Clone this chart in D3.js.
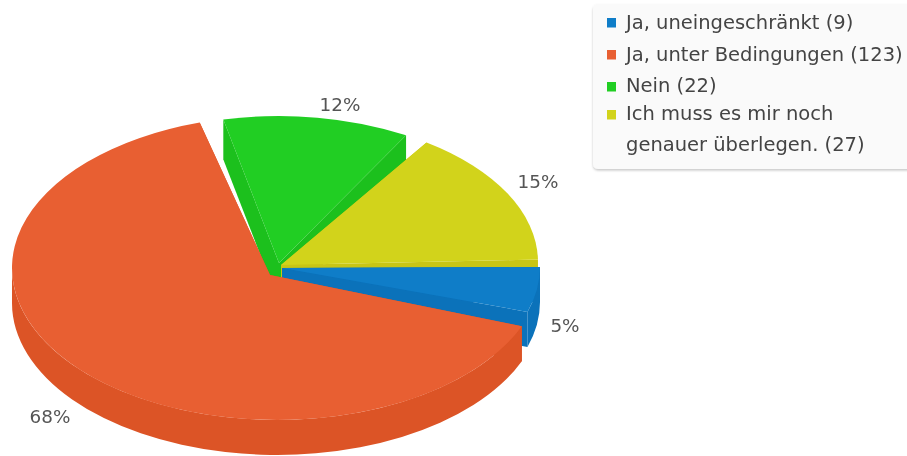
<!DOCTYPE html>
<html>
<head>
<meta charset="utf-8">
<script src="https://d3js.org/d3.v7.min.js"></script>
<style>
  html, body { margin: 0; padding: 0; background: #fff; }
  svg { display: block; filter: blur(0.45px); }
  text { font-family: "DejaVu Sans", sans-serif; }
</style>
</head>
<body>
<div id="chart"></div>
<script>
// chart data
var categories = ["Ja, uneingeschränkt", "Ja, unter Bedingungen", "Nein", "Ich muss es mir noch genauer überlegen."];
var values = [9, 123, 22, 27];
var percentLabels = ["5%", "68%", "12%", "15%"];
var legendLines = [["Ja, uneingeschränkt (9)"], ["Ja, unter Bedingungen (123)"], ["Nein (22)"], ["Ich muss es mir noch", "genauer überlegen. (27)"]];

var topColors = ["#0f7dc8", "#e85f32", "#21ce23", "#d2d31b"];
var sideColors = ["#0b72ba", "#dc5426", "#1cc01d", "#c8c515"];

// each slice is pulled out on its own, so each has its own ellipse
var shapes = [
  {cx: 282, cy: 267, rx: 258, ry: 146, ax: 282, ay: 268, depth: 35, d0: 0, d1: 0},
  {cx: 277, cy: 268, rx: 265, ry: 152, ax: 270, ay: 275, depth: 35, d0: 4.6, d1: -9.5},
  {cx: 279, cy: 265, rx: 258, ry: 149, ax: 279, ay: 263, depth: 40, d0: -5, d1: -6.8},
  {cx: 281, cy: 262, rx: 257, ry: 145, ax: 281, ay: 265, depth: 35, d0: -1.8, d1: -1}
];
var labelPos = [[565, 332], [50, 423], [340, 111], [538, 188]];

var width = 907, height = 456;

var svg = d3.select("#chart").append("svg")
  .attr("width", width)
  .attr("height", height);

var arcs = d3.pie().sort(null)(values);

function rim(s, t, dy) {
  return [s.cx + s.rx * Math.cos(t), s.cy + s.ry * Math.sin(t) + (dy || 0)];
}

function arcTo(s, t0, t1, dy) {
  var p = rim(s, t1, dy);
  var large = Math.abs(t1 - t0) > Math.PI ? 1 : 0;
  var sweep = t1 > t0 ? 1 : 0;
  return "A" + s.rx + "," + s.ry + " 0 " + large + " " + sweep + " " + p[0] + "," + p[1];
}

function cutWall(s, t) {
  var p = rim(s, t);
  return "M" + s.ax + "," + s.ay + "L" + p + "L" + p[0] + "," + (p[1] + s.depth) +
    "L" + s.ax + "," + (s.ay + s.depth) + "Z";
}

function outerWall(s, t0, t1) {
  // only the front half of the rim can be seen
  var a = Math.max(t0, 0), b = Math.min(t1, Math.PI);
  if (b <= a) return "";
  var p0 = rim(s, a), p1 = rim(s, b, s.depth);
  return "M" + p0 + arcTo(s, a, b) + "L" + p1 + arcTo(s, b, a, s.depth) + "Z";
}

// painted back to front
[2, 3, 0, 1].forEach(function(i) {
  var s = shapes[i];
  var t0 = arcs[i].startAngle + s.d0 * Math.PI / 180;
  var t1 = arcs[i].endAngle + s.d1 * Math.PI / 180;
  var g = svg.append("g");

  g.append("path").attr("d", cutWall(s, t0)).attr("fill", sideColors[i]);
  g.append("path").attr("d", cutWall(s, t1)).attr("fill", sideColors[i]);
  g.append("path").attr("d", outerWall(s, t0, t1)).attr("fill", sideColors[i]);

  g.append("path")
    .attr("d", "M" + s.ax + "," + s.ay + "L" + rim(s, t0) + arcTo(s, t0, t1) + "Z")
    .attr("fill", topColors[i]);
});

// percent labels
svg.selectAll(".pct")
  .data(percentLabels)
  .enter().append("text")
    .attr("class", "pct")
    .attr("x", function(d, i) { return labelPos[i][0]; })
    .attr("y", function(d, i) { return labelPos[i][1]; })
    .attr("text-anchor", "middle")
    .attr("font-size", 18.4)
    .attr("fill", "#555")
    .text(function(d) { return d; });

// legend
var shadow = svg.append("defs").append("filter")
  .attr("id", "legendShadow")
  .attr("x", "-5%").attr("y", "-5%").attr("width", "110%").attr("height", "115%");
shadow.append("feDropShadow")
  .attr("dx", 0).attr("dy", 1.5).attr("stdDeviation", 1.2)
  .attr("flood-color", "#000").attr("flood-opacity", 0.22);

svg.append("rect")
  .attr("x", 593).attr("y", 4)
  .attr("width", 340).attr("height", 165)
  .attr("rx", 5)
  .attr("fill", "#fafafa")
  .attr("filter", "url(#legendShadow)");

var lineY = [29, 61, 92, 120, 151];
var squareY = [18, 50, 82, 110];
var n = 0;
legendLines.forEach(function(lines, i) {
  svg.append("rect")
    .attr("x", 607).attr("y", squareY[i])
    .attr("width", 9).attr("height", 9.5)
    .attr("fill", topColors[i]);
  lines.forEach(function(line) {
    svg.append("text")
      .attr("x", 626).attr("y", lineY[n++])
      .attr("font-size", 19.5)
      .attr("fill", "#444")
      .text(line);
  });
});
</script>
</body>
</html>
